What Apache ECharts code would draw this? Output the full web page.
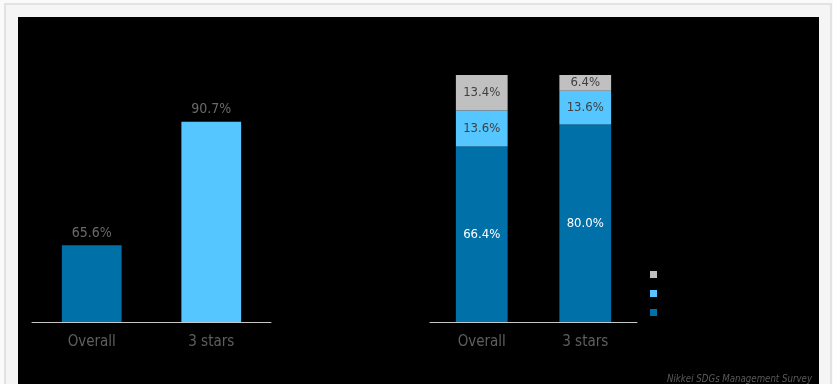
<!DOCTYPE html>
<html>
<head>
<meta charset="utf-8">
<script src="https://cdn.jsdelivr.net/npm/echarts@6/dist/echarts.min.js"></script>
<style>
html,body{margin:0;padding:0;background:#fafafa;width:833px;height:384px;overflow:hidden;}
#frame{position:absolute;left:4px;top:3px;width:828px;height:420px;box-sizing:border-box;border:2px solid #e2e2e2;background:#f5f5f5;}
#chart{position:absolute;left:18px;top:17px;width:801px;height:367px;background:#000;}
</style>
</head>
<body>
<div id="frame"></div>
<div id="chart"></div>
<script>
// ---- data ----
const categories = ['Overall', '3 stars'];
const leftValues = [65.6, 90.7];
const stackNames = ['Series C', 'Series B', 'Series A']; // legend order: gray, light blue, dark blue
const darkValues = [66.4, 80.0];
const lightValues = [13.6, 13.6];
const grayValues = [13.4, 6.4];
const sourceText = 'Nikkei SDGs Management Survey';

// ---- style ----
const DARK = '#0070a8';
const LIGHT = '#55c6ff';
const GRAY = '#c0c0c0';
const FONT = '"DejaVu Sans Condensed", "DejaVu Sans", sans-serif';

const totals = categories.map((_, i) => darkValues[i] + lightValues[i] + grayValues[i]);
const share = (arr) => arr.map((v, i) => ({ value: v / totals[i] * 100, raw: v }));

const catAxis = (gridIndex) => ({
  type: 'category', gridIndex, data: categories,
  axisLine: { lineStyle: { color: '#c8c8c8', width: 1 } },
  axisTick: { show: false },
  axisLabel: { color: '#5f5f5f', fontSize: 15, margin: 13, fontFamily: FONT }
});

const chart = echarts.init(document.getElementById('chart'));
chart.setOption({
  backgroundColor: '#000',
  textStyle: { fontFamily: FONT },
  animation: false,
  grid: [
    { left: 14, width: 239, top: 59, bottom: 62 },
    { left: 412, width: 207, top: 58, bottom: 62 }
  ],
  xAxis: [catAxis(0), catAxis(1)],
  yAxis: [
    { type: 'value', gridIndex: 0, min: 50, max: 100, show: false, splitLine: { show: false } },
    { type: 'value', gridIndex: 1, min: 0, max: 100, show: false, splitLine: { show: false } }
  ],
  legend: {
    orient: 'vertical', left: 627, top: 249, itemWidth: 7, itemHeight: 7, itemGap: 12,
    icon: 'rect', data: stackNames, formatter: () => '',
    textStyle: { color: '#000', fontSize: 7 }
  },
  series: [
    {
      type: 'bar', xAxisIndex: 0, yAxisIndex: 0, barWidth: '50%',
      data: leftValues.map((v, i) => ({ value: v, itemStyle: { color: i === 0 ? DARK : LIGHT } })),
      label: { show: true, position: 'top', distance: 5, color: '#6a6a6a', fontSize: 14, fontFamily: FONT,
        formatter: (p) => p.value.toFixed(1) + '%' }
    },
    {
      name: stackNames[2], type: 'bar', xAxisIndex: 1, yAxisIndex: 1, stack: 's', barWidth: '50%',
      itemStyle: { color: DARK }, data: share(darkValues),
      label: { show: true, position: 'inside', color: '#fff', fontSize: 13, fontFamily: FONT,
        formatter: (p) => p.data.raw.toFixed(1) + '%' }
    },
    {
      name: stackNames[1], type: 'bar', xAxisIndex: 1, yAxisIndex: 1, stack: 's',
      itemStyle: { color: LIGHT }, data: share(lightValues),
      label: { show: true, position: 'inside', color: '#404040', fontSize: 13, fontFamily: FONT,
        formatter: (p) => p.data.raw.toFixed(1) + '%' }
    },
    {
      name: stackNames[0], type: 'bar', xAxisIndex: 1, yAxisIndex: 1, stack: 's',
      itemStyle: { color: GRAY }, data: share(grayValues),
      label: { show: true, position: 'inside', color: '#404040', fontSize: 13, fontFamily: FONT,
        formatter: (p) => p.data.raw.toFixed(1) + '%' }
    }
  ],
  graphic: [{
    type: 'text', right: 7, top: 357,
    style: { text: sourceText, fill: '#5a5a5a', font: 'italic 9.6px ' + FONT }
  }]
});
</script>
</body>
</html>
